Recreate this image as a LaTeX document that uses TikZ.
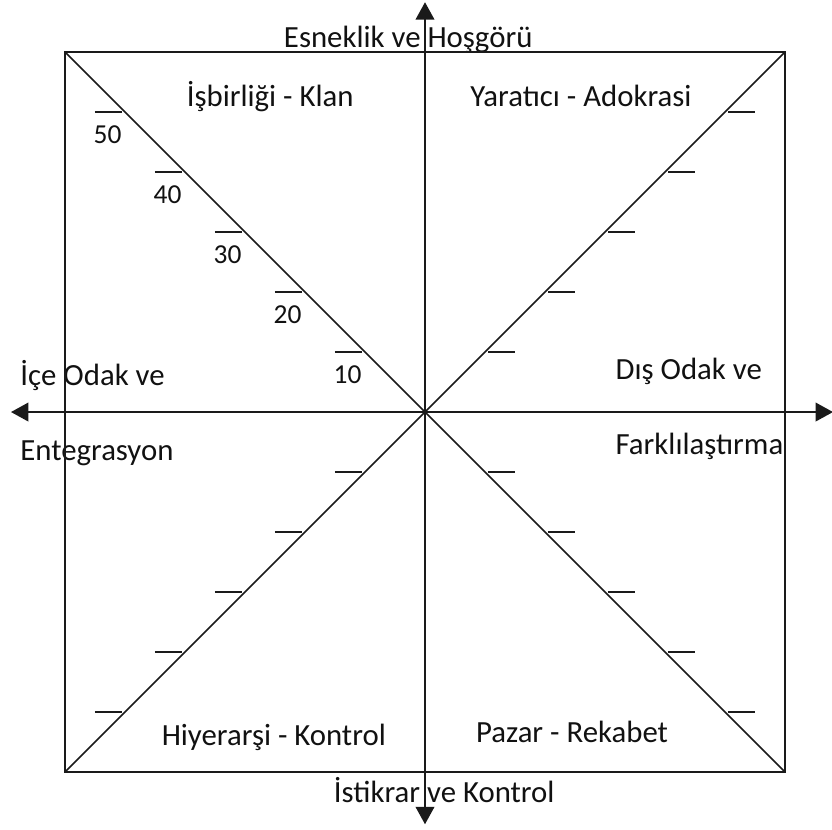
\documentclass[tikz,border=0pt]{standalone}
\usepackage{fontspec}
\setmainfont{Carlito}
\usetikzlibrary{arrows.meta}
\definecolor{ink}{HTML}{1A1A1A}
\definecolor{txt}{HTML}{111111}

\begin{document}
\begin{tikzpicture}[
    ax/.style={draw=ink, line width=0.9pt, {Triangle[length=2.9mm, width=3.1mm]}-{Triangle[length=2.9mm, width=3.1mm]}},
    bx/.style={draw=ink, line width=0.95pt},
    dg/.style={draw=ink, line width=0.8pt},
    tk/.style={draw=ink, line width=0.9pt},
    lbl/.style={font=\fontsize{14.6}{17}\selectfont, text=txt, inner sep=0pt, anchor=base},
    num/.style={font=\fontsize{13}{15}\selectfont, text=txt, inner sep=0pt, anchor=base west}]

  \useasboundingbox (-7.083,-6.95) rectangle (6.783,6.867);

  % ── frame corners and axis ends ──
  \coordinate (sw) at (-6,-6);  \coordinate (se) at (6,-6);
  \coordinate (nw) at (-6,6);   \coordinate (ne) at (6,6);
  \coordinate (o)  at (0,0);
  \coordinate (aw) at (-6.9,0); \coordinate (ae) at (6.8,0);
  \coordinate (as) at (0,-6.87); \coordinate (an) at (0,6.83);

  % ── texts ──
  \node[lbl] (tn) at (-0.28,6.07)  {Esneklik ve Hoşgörü};
  \node[lbl] (ts) at (0.32,-6.5)   {İstikrar ve Kontrol};
  \node[lbl, anchor=base west] (tw1) at (-6.75,0.45) {İçe Odak ve};
  \node[lbl, anchor=base west] (tw2) at (-6.75,-0.8) {Entegrasyon};
  \node[lbl, anchor=base west] (te1) at (3.17,0.55)  {Dış Odak ve};
  \node[lbl, anchor=base west] (te2) at (3.17,-0.7)  {Farklılaştırma};
  \node[lbl] (qnw) at (-2.58,5.1)  {İşbirliği - Klan};
  \node[lbl] (qne) at (2.6,5.1)    {Yaratıcı - Adokrasi};
  \node[lbl] (qsw) at (-2.52,-5.55) {Hiyerarşi - Kontrol};
  \node[lbl] (qse) at (2.45,-5.5)  {Pazar - Rekabet};

  % ── scale numbers on the upper left diagonal ──
  \node[num] (n50) at (-5.53,4.48) {50};
  \node[num] (n40) at (-4.53,3.48) {40};
  \node[num] (n30) at (-3.53,2.48) {30};
  \node[num] (n20) at (-2.53,1.48) {20};
  \node[num] (n10) at (-1.53,0.48) {10};

  % ── square and diagonals ──
  \draw[bx] (sw) rectangle (ne);
  \draw[dg] (nw)--(o); \draw[dg] (o)--(se);
  \draw[dg] (sw)--(o); \draw[dg] (o)--(ne);

  % ── ticks ──
  \draw[tk] (-5.5,5)--(-5.05,5); \draw[tk] (-4.5,4)--(-4.05,4); \draw[tk] (-3.5,3)--(-3.05,3);
  \draw[tk] (-2.5,2)--(-2.05,2); \draw[tk] (-1.5,1)--(-1.05,1);
  \draw[tk] (5.05,5)--(5.5,5);   \draw[tk] (4.05,4)--(4.5,4);   \draw[tk] (3.05,3)--(3.5,3);
  \draw[tk] (2.05,2)--(2.5,2);   \draw[tk] (1.05,1)--(1.5,1);
  \draw[tk] (-5.5,-5)--(-5.05,-5); \draw[tk] (-4.5,-4)--(-4.05,-4); \draw[tk] (-3.5,-3)--(-3.05,-3);
  \draw[tk] (-2.5,-2)--(-2.05,-2); \draw[tk] (-1.5,-1)--(-1.05,-1);
  \draw[tk] (5.05,-5)--(5.5,-5);   \draw[tk] (4.05,-4)--(4.5,-4);   \draw[tk] (3.05,-3)--(3.5,-3);
  \draw[tk] (2.05,-2)--(2.5,-2);   \draw[tk] (1.05,-1)--(1.5,-1);

  % ── axes ──
  \draw[ax] (aw)--(ae);
  \draw[ax] (as)--(an);
\end{tikzpicture}
\end{document}
